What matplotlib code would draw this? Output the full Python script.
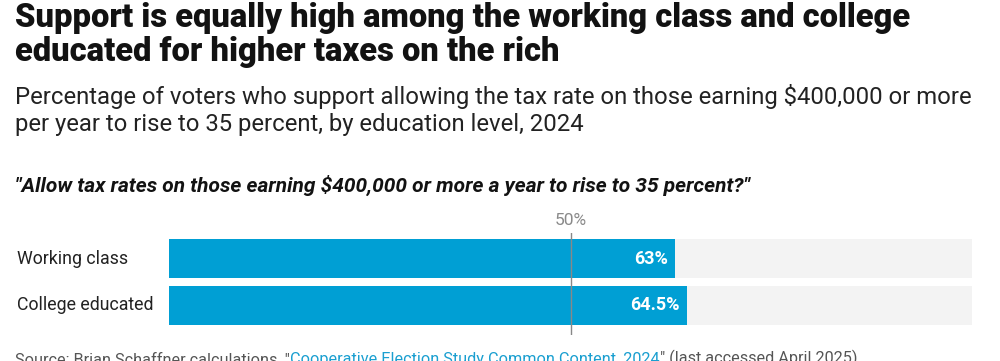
import matplotlib.pyplot as plt

plt.rcParams["font.family"] = ["Roboto", "DejaVu Sans"]

groups = ["Working class", "College educated"]
support = [63, 64.5]
labels = ["63%", "64.5%"]
reference = 50

BAR_COLOR = "#009fd4"
BG_COLOR = "#f3f3f3"
LINK_COLOR = "#1a9fd0"


def create_chart():
    fig = plt.figure(figsize=(10, 3.61), dpi=100)

    fig.text(0.015, 0.995, "Support is equally high among the working class and college\n"
             "educated for higher taxes on the rich",
             fontsize=23.6, fontweight=900, va="top", ha="left",
             color="#121212", linespacing=1.07)
    fig.text(0.015, 0.768, "Percentage of voters who support allowing the tax rate on those earning "
             "$400,000 or more\nper year to rise to 35 percent, by education level, 2024",
             fontsize=17.2, va="top", ha="left", color="#222222", linespacing=1.25)
    fig.text(0.015, 0.487, '"Allow tax rates on those earning $400,000 or more a year to rise to 35 percent?"',
             fontsize=15, fontweight="bold", style="italic", va="center", ha="left",
             color="#121212")

    ax = fig.add_axes([0.169, 1 - 335 / 361, 0.803, 102 / 361])
    ypos = list(range(len(groups)))
    ax.barh(ypos, [100] * len(groups), height=0.83, color=BG_COLOR)
    ax.barh(ypos, support, height=0.83, color=BAR_COLOR)
    for y, v, lab in zip(ypos, support, labels):
        ax.text(v - 0.9, y, lab, color="white", fontsize=13, fontweight="bold",
                ha="right", va="center")
    for y, g in zip(ypos, groups):
        ax.text(-18.9, y, g, color="#222222", fontsize=12.8, ha="left", va="center")

    ax.axvline(reference, color="#888888", linewidth=1)
    ax.text(reference, -0.543 - 0.1, "50%", color="#8a8a8a", fontsize=12.5,
            ha="center", va="bottom", clip_on=False)

    ax.set_xlim(0, 100)
    ax.set_ylim(1.628, -0.543)
    ax.axis("off")

    # source line, partly cut at the bottom edge as in the original
    parts = [('Source: Brian Schaffner calculations, "', "#555555"),
             ("Cooperative Election Study Common Content, 2024", LINK_COLOR),
             ('" (last accessed April 2025)', "#555555")]
    fig.canvas.draw()
    renderer = fig.canvas.get_renderer()
    x = 0.015
    for txt, col in parts:
        t = fig.text(x, -0.018, txt, fontsize=11.7, color=col, va="bottom", ha="left")
        bb = t.get_window_extent(renderer=renderer)
        x += bb.width / fig.bbox.width

    fig.savefig("out.png", dpi=100)


if __name__ == "__main__":
    create_chart()
